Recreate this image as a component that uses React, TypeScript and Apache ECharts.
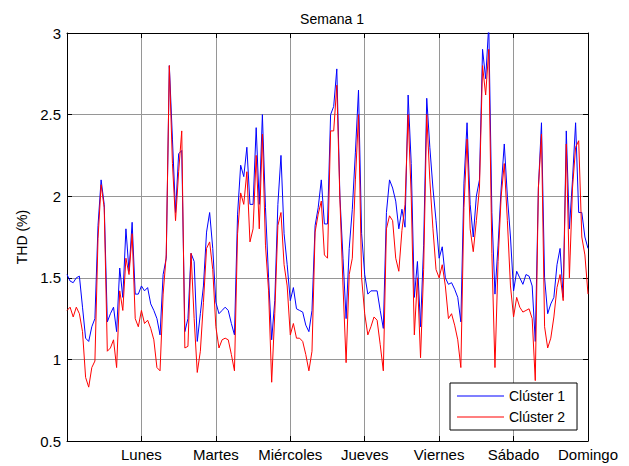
import React, { useEffect, useRef } from "react";
import * as echarts from "echarts";

const dayLabels = ["", "Lunes", "Martes", "Miércoles", "Jueves", "Viernes", "Sábado", "Domingo"];
const yTicks = [0.5, 1, 1.5, 2, 2.5, 3];
const seriesNames = ["Clúster 1", "Clúster 2"];

// hourly THD (%) values, hours 0..168
const cluster1 = [
  1.52, 1.48, 1.47, 1.50, 1.51, 1.32, 1.13, 1.11, 1.20, 1.25,
  1.82, 2.10, 1.95, 1.23, 1.28, 1.32, 1.17, 1.56, 1.38, 1.80,
  1.54, 1.84, 1.40, 1.40, 1.45, 1.42, 1.44, 1.34, 1.30, 1.25,
  1.15, 1.52, 1.62, 2.80, 2.35, 1.90, 2.26, 2.28, 1.17, 1.25,
  1.65, 1.60, 1.11, 1.28, 1.45, 1.78, 1.90, 1.68, 1.35, 1.28,
  1.30, 1.32, 1.30, 1.22, 1.15, 1.89, 2.19, 2.12, 2.30, 1.95,
  1.95, 2.42, 1.95, 2.50, 1.93, 1.50, 1.12, 1.36, 1.95, 2.25,
  1.77, 1.58, 1.36, 1.44, 1.31, 1.30, 1.29, 1.21, 1.17, 1.30,
  1.82, 1.93, 2.10, 1.83, 1.83, 2.50, 2.55, 2.78, 2.00, 1.62,
  1.25, 1.68, 1.92, 2.27, 2.65, 1.77, 1.52, 1.40, 1.42, 1.42,
  1.42, 1.30, 1.19, 1.90, 2.10, 2.05, 1.97, 1.80, 1.92, 1.81,
  2.62, 2.20, 1.38, 1.60, 1.20, 1.70, 2.60, 2.30, 2.05, 1.85,
  1.62, 1.69, 1.50, 1.46, 1.47, 1.43, 1.38, 1.23, 2.08, 2.45,
  1.95, 1.75, 2.00, 2.10, 2.90, 2.72, 3.05, 1.90, 1.40, 1.70,
  2.05, 2.32, 2.00, 1.75, 1.42, 1.54, 1.50, 1.46, 1.52, 1.51,
  1.45, 1.11, 2.05, 2.45, 1.50, 1.28, 1.34, 1.38, 1.58, 1.68,
  1.38, 2.40, 1.80, 2.10, 2.45, 1.90, 1.90, 1.75, 1.68,
];

const cluster2 = [
  1.30, 1.32, 1.26, 1.32, 1.28, 1.17, 0.89, 0.83, 0.95, 0.99,
  1.74, 2.07, 1.93, 1.05, 1.07, 1.12, 0.95, 1.42, 1.30, 1.62,
  1.52, 1.77, 1.25, 1.20, 1.30, 1.22, 1.24, 1.19, 1.12, 0.95,
  0.93, 1.40, 1.64, 2.80, 2.20, 1.85, 2.15, 2.40, 1.07, 1.08,
  1.65, 1.25, 0.92, 1.05, 1.35, 1.68, 1.72, 1.55, 1.20, 1.07,
  1.12, 1.13, 1.12, 1.03, 0.93, 1.77, 2.02, 1.95, 2.15, 1.72,
  1.80, 2.25, 1.80, 2.38, 1.70, 1.42, 0.86, 1.28, 1.82, 1.90,
  1.58, 1.45, 1.15, 1.22, 1.13, 1.13, 1.11, 1.03, 0.93, 1.05,
  1.78, 1.89, 1.97, 1.64, 1.62, 2.40, 2.40, 2.68, 1.98, 1.45,
  0.98, 1.52, 1.62, 2.10, 2.50, 1.50, 1.28, 1.15, 1.20, 1.26,
  1.24, 1.09, 0.93, 1.80, 1.88, 1.85, 1.62, 1.54, 1.79, 1.95,
  2.50, 2.00, 1.15, 1.50, 1.01, 1.55, 2.50, 2.10, 1.80, 1.55,
  1.50, 1.58, 1.45, 1.25, 1.28, 1.21, 1.12, 0.95, 1.93, 2.35,
  1.80, 1.66, 1.85, 2.05, 2.80, 2.62, 2.90, 1.65, 0.95, 1.60,
  2.00, 2.20, 1.85, 1.45, 1.26, 1.38, 1.32, 1.29, 1.30, 1.31,
  1.25, 0.87, 2.05, 2.38, 1.20, 1.07, 1.13, 1.26, 1.44, 1.52,
  1.36, 2.32, 1.50, 2.05, 2.30, 2.34, 1.75, 1.64, 1.40,
];

const FONT = "'Liberation Sans', Arial, Helvetica, sans-serif";

export default function App() {
  const ref = useRef<HTMLDivElement>(null);

  useEffect(() => {
    if (!ref.current) return;
    const chart = echarts.init(ref.current, undefined, { renderer: "svg" });
    const hoursPerDay = 24;
    const totalHours = hoursPerDay * (dayLabels.length - 1);
    const toPairs = (arr: number[]) => arr.map((v, i) => [i, v]);
    const tickStyle = { show: true, inside: true, length: 5, lineStyle: { color: "#000", width: 1 } };
    const gridColor = "#969696";

    chart.setOption({
      animation: false,
      backgroundColor: "#fff",
      title: {
        text: "Semana 1",
        left: 327,
        top: 7,
        textAlign: "center",
        textStyle: { fontFamily: FONT, fontSize: 14, fontWeight: "normal", color: "#000" },
      },
      legend: {
        data: seriesNames,
        orient: "vertical",
        left: 450,
        top: 383,
        padding: [6, 12, 6, 7],
        itemGap: 7,
        itemWidth: 47,
        itemHeight: 1,
        icon: "rect",
        backgroundColor: "#fff",
        borderColor: "#000",
        borderWidth: 1,
        borderRadius: 0,
        textStyle: { fontFamily: FONT, fontSize: 14, color: "#000" },
      },
      grid: { left: 67, top: 33, right: 41, bottom: 25, containLabel: false },
      xAxis: [
        {
          type: "value",
          min: 0,
          max: totalHours,
          interval: hoursPerDay,
          axisLine: { show: true, onZero: false, lineStyle: { color: "#000", width: 1 } },
          axisTick: tickStyle,
          axisLabel: {
            show: true,
            margin: 6,
            fontFamily: FONT,
            fontSize: 15,
            color: "#000",
            formatter: (v: number) => dayLabels[Math.round(v / hoursPerDay)] || "",
          },
          splitLine: { show: true, lineStyle: { color: gridColor, width: 1 } },
        },
        {
          type: "value",
          position: "top",
          min: 0,
          max: totalHours,
          interval: hoursPerDay,
          axisLine: { show: true, onZero: false, lineStyle: { color: "#000", width: 1 } },
          axisTick: tickStyle,
          axisLabel: { show: false },
          splitLine: { show: false },
        },
      ],
      yAxis: [
        {
          type: "value",
          min: yTicks[0],
          max: yTicks[yTicks.length - 1],
          interval: 0.5,
          name: "THD (%)",
          nameLocation: "middle",
          nameGap: 37,
          nameTextStyle: { fontFamily: FONT, fontSize: 14, color: "#000" },
          axisLine: { show: true, onZero: false, lineStyle: { color: "#000", width: 1 } },
          axisTick: tickStyle,
          axisLabel: { fontFamily: FONT, fontSize: 15, color: "#000", margin: 6 },
          splitLine: { show: true, lineStyle: { color: gridColor, width: 1 } },
        },
        {
          type: "value",
          position: "right",
          min: yTicks[0],
          max: yTicks[yTicks.length - 1],
          interval: 0.5,
          axisLine: { show: true, onZero: false, lineStyle: { color: "#000", width: 1 } },
          axisTick: tickStyle,
          axisLabel: { show: false },
          splitLine: { show: false },
        },
      ],
      series: [
        {
          name: seriesNames[0],
          type: "line",
          data: toPairs(cluster1),
          symbol: "none",
          clip: true,
          lineStyle: { color: "#0000ff", width: 1 },
          itemStyle: { color: "#0000ff" },
        },
        {
          name: seriesNames[1],
          type: "line",
          data: toPairs(cluster2),
          symbol: "none",
          clip: true,
          lineStyle: { color: "#ff0000", width: 1 },
          itemStyle: { color: "#ff0000" },
        },
      ],
    });
    return () => chart.dispose();
  }, []);

  return (
    <div
      ref={ref}
      style={{ position: "fixed", left: 0, top: 0, width: 629, height: 466, background: "#fff" }}
    />
  );
}
